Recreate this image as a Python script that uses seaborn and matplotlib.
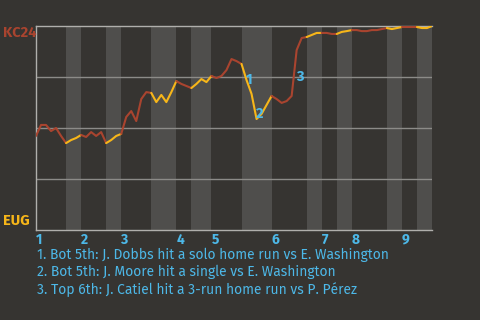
import matplotlib
matplotlib.use("Agg")
import matplotlib.pyplot as plt
import seaborn as sns
import pandas as pd
import numpy as np

# Win probability for KC24 after each plate appearance (0 = EUG wins, 1 = KC24 wins)
wp = [0.461, 0.515, 0.515, 0.485, 0.500, 0.461, 0.426,
      0.441, 0.451, 0.466,
      0.456, 0.480, 0.461, 0.480, 0.426,
      0.441, 0.461, 0.471,
      0.554, 0.583, 0.534, 0.642, 0.676, 0.672,
      0.627, 0.662, 0.627, 0.676, 0.730,
      0.716, 0.706, 0.696,
      0.716, 0.740, 0.725, 0.755,
      0.745, 0.755, 0.784, 0.838, 0.828, 0.814,
      0.735, 0.667, 0.544, 0.569, 0.613, 0.657,
      0.642, 0.623, 0.632, 0.657, 0.882, 0.941, 0.946,
      0.956, 0.966, 0.966,
      0.966, 0.961, 0.961,
      0.971, 0.975, 0.980,
      0.980, 0.975, 0.975, 0.980, 0.980, 0.985, 0.990,
      0.985, 0.990, 0.995,
      0.995, 0.995, 0.995,
      0.990, 0.990, 1.000]

# last plate-appearance index of each half inning (top 1, bot 1, top 2, ...)
half_inning_ends = [6, 9, 14, 17, 23, 28, 31, 35, 41, 47, 54, 57, 60, 63, 70, 73, 76, 79]
innings = ["1", "2", "3", "4", "5", "6", "7", "8", "9"]

teams = ["KC24", "EUG"]

# key plays: (plate appearance index, label)
key_pa = [43, 44, 52]
key_labels = ["1", "2", "3"]
notes = [
    "1. Bot 5th: J. Dobbs hit a solo home run vs E. Washington",
    "2. Bot 5th: J. Moore hit a single vs E. Washington",
    "3. Top 6th: J. Catiel hit a 3-run home run vs P. Pérez",
]

BG = "#363431"
BAND = "#4f4e4c"
RED = "#a9442f"
YEL = "#f7b619"
BLUE = "#4db8e8"
GRID = "#8c8b88"

sns.set_theme(style="dark")
plt.rcParams['font.family'] = ['Fira Sans', 'Roboto', 'DejaVu Sans']

fig = plt.figure(figsize=(4.8, 3.2), dpi=100, facecolor=BG)
ax = fig.add_axes([36/480, 1-230/320, 396/480, 204/320])
ax.set_facecolor(BG)

df = pd.DataFrame({"pa": np.arange(len(wp)), "wp": wp})

# shaded bottom half-innings
starts = [0] + half_inning_ends[:-1]
for k, (s, e) in enumerate(zip(starts, half_inning_ends)):
    if k % 2 == 1:
        ax.axvspan(s, e, color=BAND, lw=0, zorder=0)

# grid lines
for gy in [0.25, 0.5, 0.75]:
    ax.axhline(gy, color=GRID, lw=1.0, zorder=1)

# line segments per half inning
for k, (s, e) in enumerate(zip(starts, half_inning_ends)):
    seg = df.iloc[s:e + 1]
    sns.lineplot(data=seg, x="pa", y="wp", ax=ax, color=RED if k % 2 == 0 else YEL,
                 lw=1.5, zorder=3, legend=False, estimator=None)

ax.set_xlim(0, len(wp) - 1)
ax.set_ylim(0, 1)
ax.set_xticks([])
ax.set_yticks([])
ax.set_xlabel("")
ax.set_ylabel("")
for side in ["left", "top", "bottom"]:
    ax.spines[side].set_visible(True)
    ax.spines[side].set_color("#b0afac")
    ax.spines[side].set_linewidth(1.0)
ax.spines["right"].set_visible(False)
ax.grid(False)

# key play labels
offsets = [(-2, 10), (2, 4), (2, -19)]
for pa, lab, off in zip(key_pa, key_labels, offsets):
    ax.annotate(lab, xy=(pa, wp[pa]), xytext=off, textcoords="offset points",
                color=BLUE, fontsize=10.5, fontweight="bold", ha="center", va="center", zorder=5)

# inning labels at the start of each top half
inning_starts = [0] + half_inning_ends[1::2][:-1]
for x0, lab in zip(inning_starts, innings):
    ax.text(x0, -0.012, lab, color=BLUE, fontsize=10, fontweight="bold",
            ha="left", va="top", transform=ax.transData, clip_on=False)

# team labels
fig.text(3/480, 1-33/320, teams[0], color=RED, fontsize=10.5, fontweight="bold", ha="left", va="center")
fig.text(3/480, 1-221/320, teams[1], color=YEL, fontsize=10.5, fontweight="bold", ha="left", va="center")

for i, t in enumerate(notes):
    fig.text(37/480, 1-(254.5 + i*17.5)/320, t, color=BLUE, fontsize=10, ha="left", va="center")

fig.savefig("out.png", dpi=100, facecolor=BG)
